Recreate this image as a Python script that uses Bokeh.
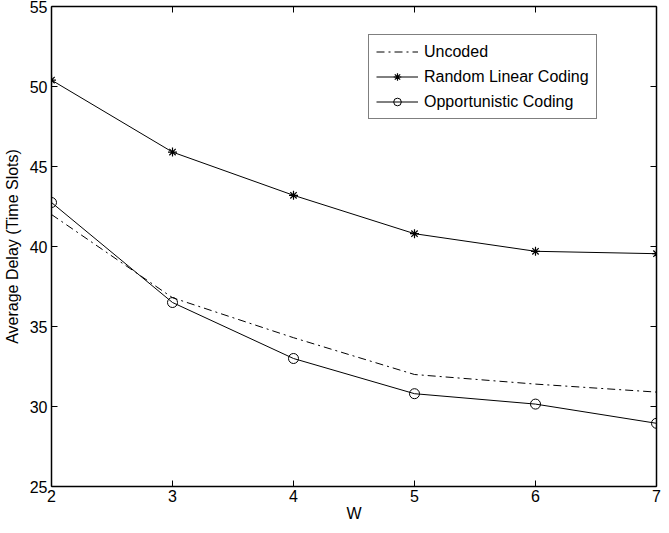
from bokeh.plotting import figure
from bokeh.models import LinearAxis, Legend, LegendItem, FixedTicker, Range1d
from bokeh.embed import file_html
from bokeh.resources import INLINE

# Data
w_values = [2, 3, 4, 5, 6, 7]
uncoded = [42.0, 36.8, 34.3, 32.0, 31.4, 30.9]
random_linear = [50.4, 45.9, 43.2, 40.8, 39.7, 39.55]
opportunistic = [42.75, 36.5, 33.0, 30.8, 30.15, 28.95]

x_ticks = [2, 3, 4, 5, 6, 7]
y_ticks = [25, 30, 35, 40, 45, 50, 55]

FONT = "Liberation Sans"

p = figure(width=661, height=525,
           x_range=Range1d(2, 7), y_range=Range1d(25, 55),
           output_backend="svg", toolbar_location=None,
           min_border_left=48, min_border_right=5,
           min_border_top=6, min_border_bottom=39,
           x_axis_label="W", y_axis_label="Average Delay (Time Slots)")
p.xgrid.visible = False
p.ygrid.visible = False
p.outline_line_color = None
p.background_fill_color = "white"
p.border_fill_color = "white"

def style_axis(ax, ticks, show_labels=True):
    ax.ticker = FixedTicker(ticks=ticks)
    ax.major_tick_in = 6
    ax.major_tick_out = 0
    ax.minor_tick_line_color = None
    ax.axis_line_color = "black"
    ax.axis_line_width = 1.5
    ax.major_tick_line_color = "black"
    ax.major_tick_line_width = 1
    ax.major_label_text_font = FONT
    ax.axis_label_text_font = FONT
    ax.axis_label_text_font_style = "normal"
    ax.axis_label_text_font_size = "16px"
    ax.axis_label_text_color = "black"
    if show_labels:
        ax.major_label_text_font_size = "16px"
        ax.major_label_text_color = "black"
    else:
        ax.major_label_text_font_size = "1px"
        ax.major_label_text_color = None
        ax.major_label_standoff = 0

style_axis(p.xaxis[0], x_ticks)
style_axis(p.yaxis[0], y_ticks)
p.xaxis[0].major_label_standoff = 3
p.xaxis[0].axis_label_standoff = 0
p.yaxis[0].major_label_standoff = 4
p.yaxis[0].axis_label_standoff = 6

top_axis = LinearAxis()
style_axis(top_axis, x_ticks, show_labels=False)
right_axis = LinearAxis()
style_axis(right_axis, y_ticks, show_labels=False)
p.add_layout(top_axis, "above")
p.add_layout(right_axis, "right")

r_unc = p.line(w_values, uncoded, line_color="black", line_width=1, line_dash="8 4 2 4")
r_rand_l = p.line(w_values, random_linear, line_color="black", line_width=1)
r_rand_m = p.scatter(w_values, random_linear, marker="asterisk", size=9,
                     line_color="black", line_width=1.2)
r_opp_l = p.line(w_values, opportunistic, line_color="black", line_width=1)
r_opp_m = p.scatter(w_values, opportunistic, marker="circle", size=10,
                    line_color="black", fill_color=None, line_width=1)

legend = Legend(items=[
    LegendItem(label="Uncoded", renderers=[r_unc]),
    LegendItem(label="Random Linear Coding", renderers=[r_rand_l, r_rand_m]),
    LegendItem(label="Opportunistic Coding", renderers=[r_opp_l, r_opp_m]),
], location=(317, 367))
legend.glyph_width = 42
legend.glyph_height = 19
legend.label_height = 19
legend.spacing = 6
legend.padding = 7
legend.margin = 0
legend.label_standoff = 6
legend.label_text_font = FONT
legend.label_text_font_size = "16px"
legend.label_text_color = "black"
legend.border_line_color = "black"
legend.border_line_width = 1
legend.background_fill_alpha = 1
p.add_layout(legend, "center")

open("out.html", "w").write(file_html(p, INLINE))
